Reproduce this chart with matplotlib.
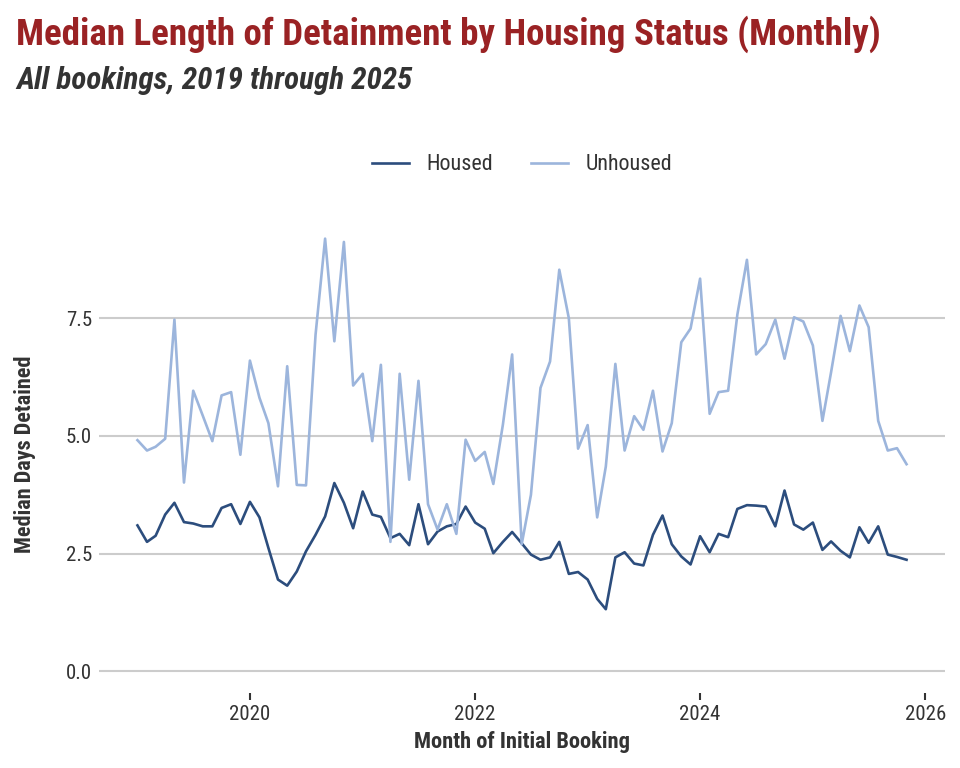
import numpy as np
import pandas as pd
import matplotlib
matplotlib.use("Agg")
import matplotlib.pyplot as plt
from matplotlib import font_manager

# ---------------- data ----------------
months = pd.date_range("2019-01-01", "2025-11-01", freq="MS")

housed = [
    3.10, 2.75, 2.88, 3.33, 3.58, 3.17, 3.14, 3.08, 3.08, 3.47, 3.55, 3.13,  # 2019
    3.60, 3.27, 2.62, 1.95, 1.82, 2.12, 2.55, 2.90, 3.29, 4.00, 3.58, 3.04,  # 2020
    3.82, 3.33, 3.28, 2.83, 2.92, 2.68, 3.55, 2.70, 2.97, 3.08, 3.13, 3.50,  # 2021
    3.16, 3.03, 2.51, 2.75, 2.96, 2.72, 2.48, 2.37, 2.42, 2.75, 2.07, 2.11,  # 2022
    1.95, 1.54, 1.32, 2.42, 2.53, 2.29, 2.25, 2.90, 3.31, 2.70, 2.44, 2.27,  # 2023
    2.87, 2.53, 2.92, 2.85, 3.45, 3.53, 3.52, 3.50, 3.08, 3.84, 3.12, 3.01,  # 2024
    3.16, 2.58, 2.76, 2.56, 2.42, 3.06, 2.73, 3.08, 2.48, 2.43, 2.37,        # 2025
]
unhoused = [
    4.91, 4.69, 4.77, 4.94, 7.47, 4.01, 5.96, 5.43, 4.89, 5.86, 5.93, 4.60,  # 2019
    6.60, 5.81, 5.27, 3.93, 6.48, 3.96, 3.95, 7.15, 9.19, 7.01, 9.12, 6.07,  # 2020
    6.32, 4.89, 6.51, 2.75, 6.32, 4.07, 6.17, 3.55, 3.01, 3.55, 2.92, 4.92,  # 2021
    4.47, 4.66, 3.98, 5.24, 6.73, 2.70, 3.75, 6.02, 6.58, 8.53, 7.50, 4.73,  # 2022
    5.23, 3.27, 4.35, 6.53, 4.69, 5.42, 5.13, 5.96, 4.67, 5.27, 6.99, 7.28,  # 2023
    8.34, 5.47, 5.93, 5.96, 7.58, 8.74, 6.73, 6.95, 7.47, 6.64, 7.52, 7.43,  # 2024
    6.92, 5.32, 6.35, 7.55, 6.80, 7.77, 7.31, 5.32, 4.69, 4.74, 4.40,        # 2025
]
series_names = ["Housed", "Unhoused"]
y_ticks = [0.0, 2.5, 5.0, 7.5]
x_tick_years = [2020, 2022, 2024, 2026]

title = "Median Length of Detainment by Housing Status (Monthly)"
subtitle = "All bookings, 2019 through 2025"
x_label = "Month of Initial Booking"
y_label = "Median Days Detained"

# ---------------- fonts ----------------
names = {f.name for f in font_manager.fontManager.ttflist}
FONT = "Roboto Condensed" if "Roboto Condensed" in names else "Roboto"
plt.rcParams["font.family"] = [FONT, "DejaVu Sans"]

# ---------------- colours ----------------
c_housed = "#2c4d7d"
c_unhoused = "#9cb5dc"
c_title = "#9a2224"
c_text = "#333333"
c_grid = "#cccccc"

fig = plt.figure(figsize=(9.6, 7.68), dpi=100)
ax = fig.add_axes([99 / 960, 75 / 768, 846 / 960, 476 / 768])

ax.plot(months, housed, color=c_housed, lw=1.9, label=series_names[0])
ax.plot(months, unhoused, color=c_unhoused, lw=1.9, label=series_names[1])

ymax = max(max(housed), max(unhoused))
ax.set_ylim(-0.05 * ymax, ymax * 1.05)
span = months[-1] - months[0]
ax.set_xlim(months[0] - 0.05 * span, months[-1] + 0.05 * span)

ax.set_yticks(y_ticks)
ax.set_yticklabels([f"{v:.1f}" for v in y_ticks])
ax.set_xticks([pd.Timestamp(f"{y}-01-01") for y in x_tick_years])
ax.set_xticklabels([str(y) for y in x_tick_years])

ax.grid(axis="y", color=c_grid, lw=1.5)
ax.grid(axis="x", visible=False)
ax.set_axisbelow(True)
for s in ax.spines.values():
    s.set_visible(False)
ax.tick_params(axis="y", length=0, pad=5, labelsize=15, labelcolor=c_text)
ax.tick_params(axis="x", length=5, width=1.5, color=c_text, pad=4, labelsize=15, labelcolor=c_text)

ax.set_xlabel(x_label, fontsize=16.2, fontweight="bold", color=c_text, labelpad=5)
fig.text(25 / 960, 1 - 454 / 768, y_label, rotation=90, ha="center", va="center",
         fontsize=16, fontweight="bold", color=c_text)

fig.text(16 / 960, 1 - 44.3 / 768, title, fontsize=26.6, fontweight="bold", color=c_title,
         ha="left", va="baseline")
fig.text(16 / 960, 1 - 89.3 / 768, subtitle, fontsize=22.4, fontweight="bold", style="italic",
         color=c_text, ha="left", va="baseline")

ax.legend(loc="center", bbox_to_anchor=(0.5, (693 - 165) / 476), ncol=2, frameon=False,
          fontsize=15.8, handlelength=1.69, handletextpad=0.82, columnspacing=1.69,
          labelcolor=c_text)

fig.savefig("out.png", dpi=100, facecolor="white")
